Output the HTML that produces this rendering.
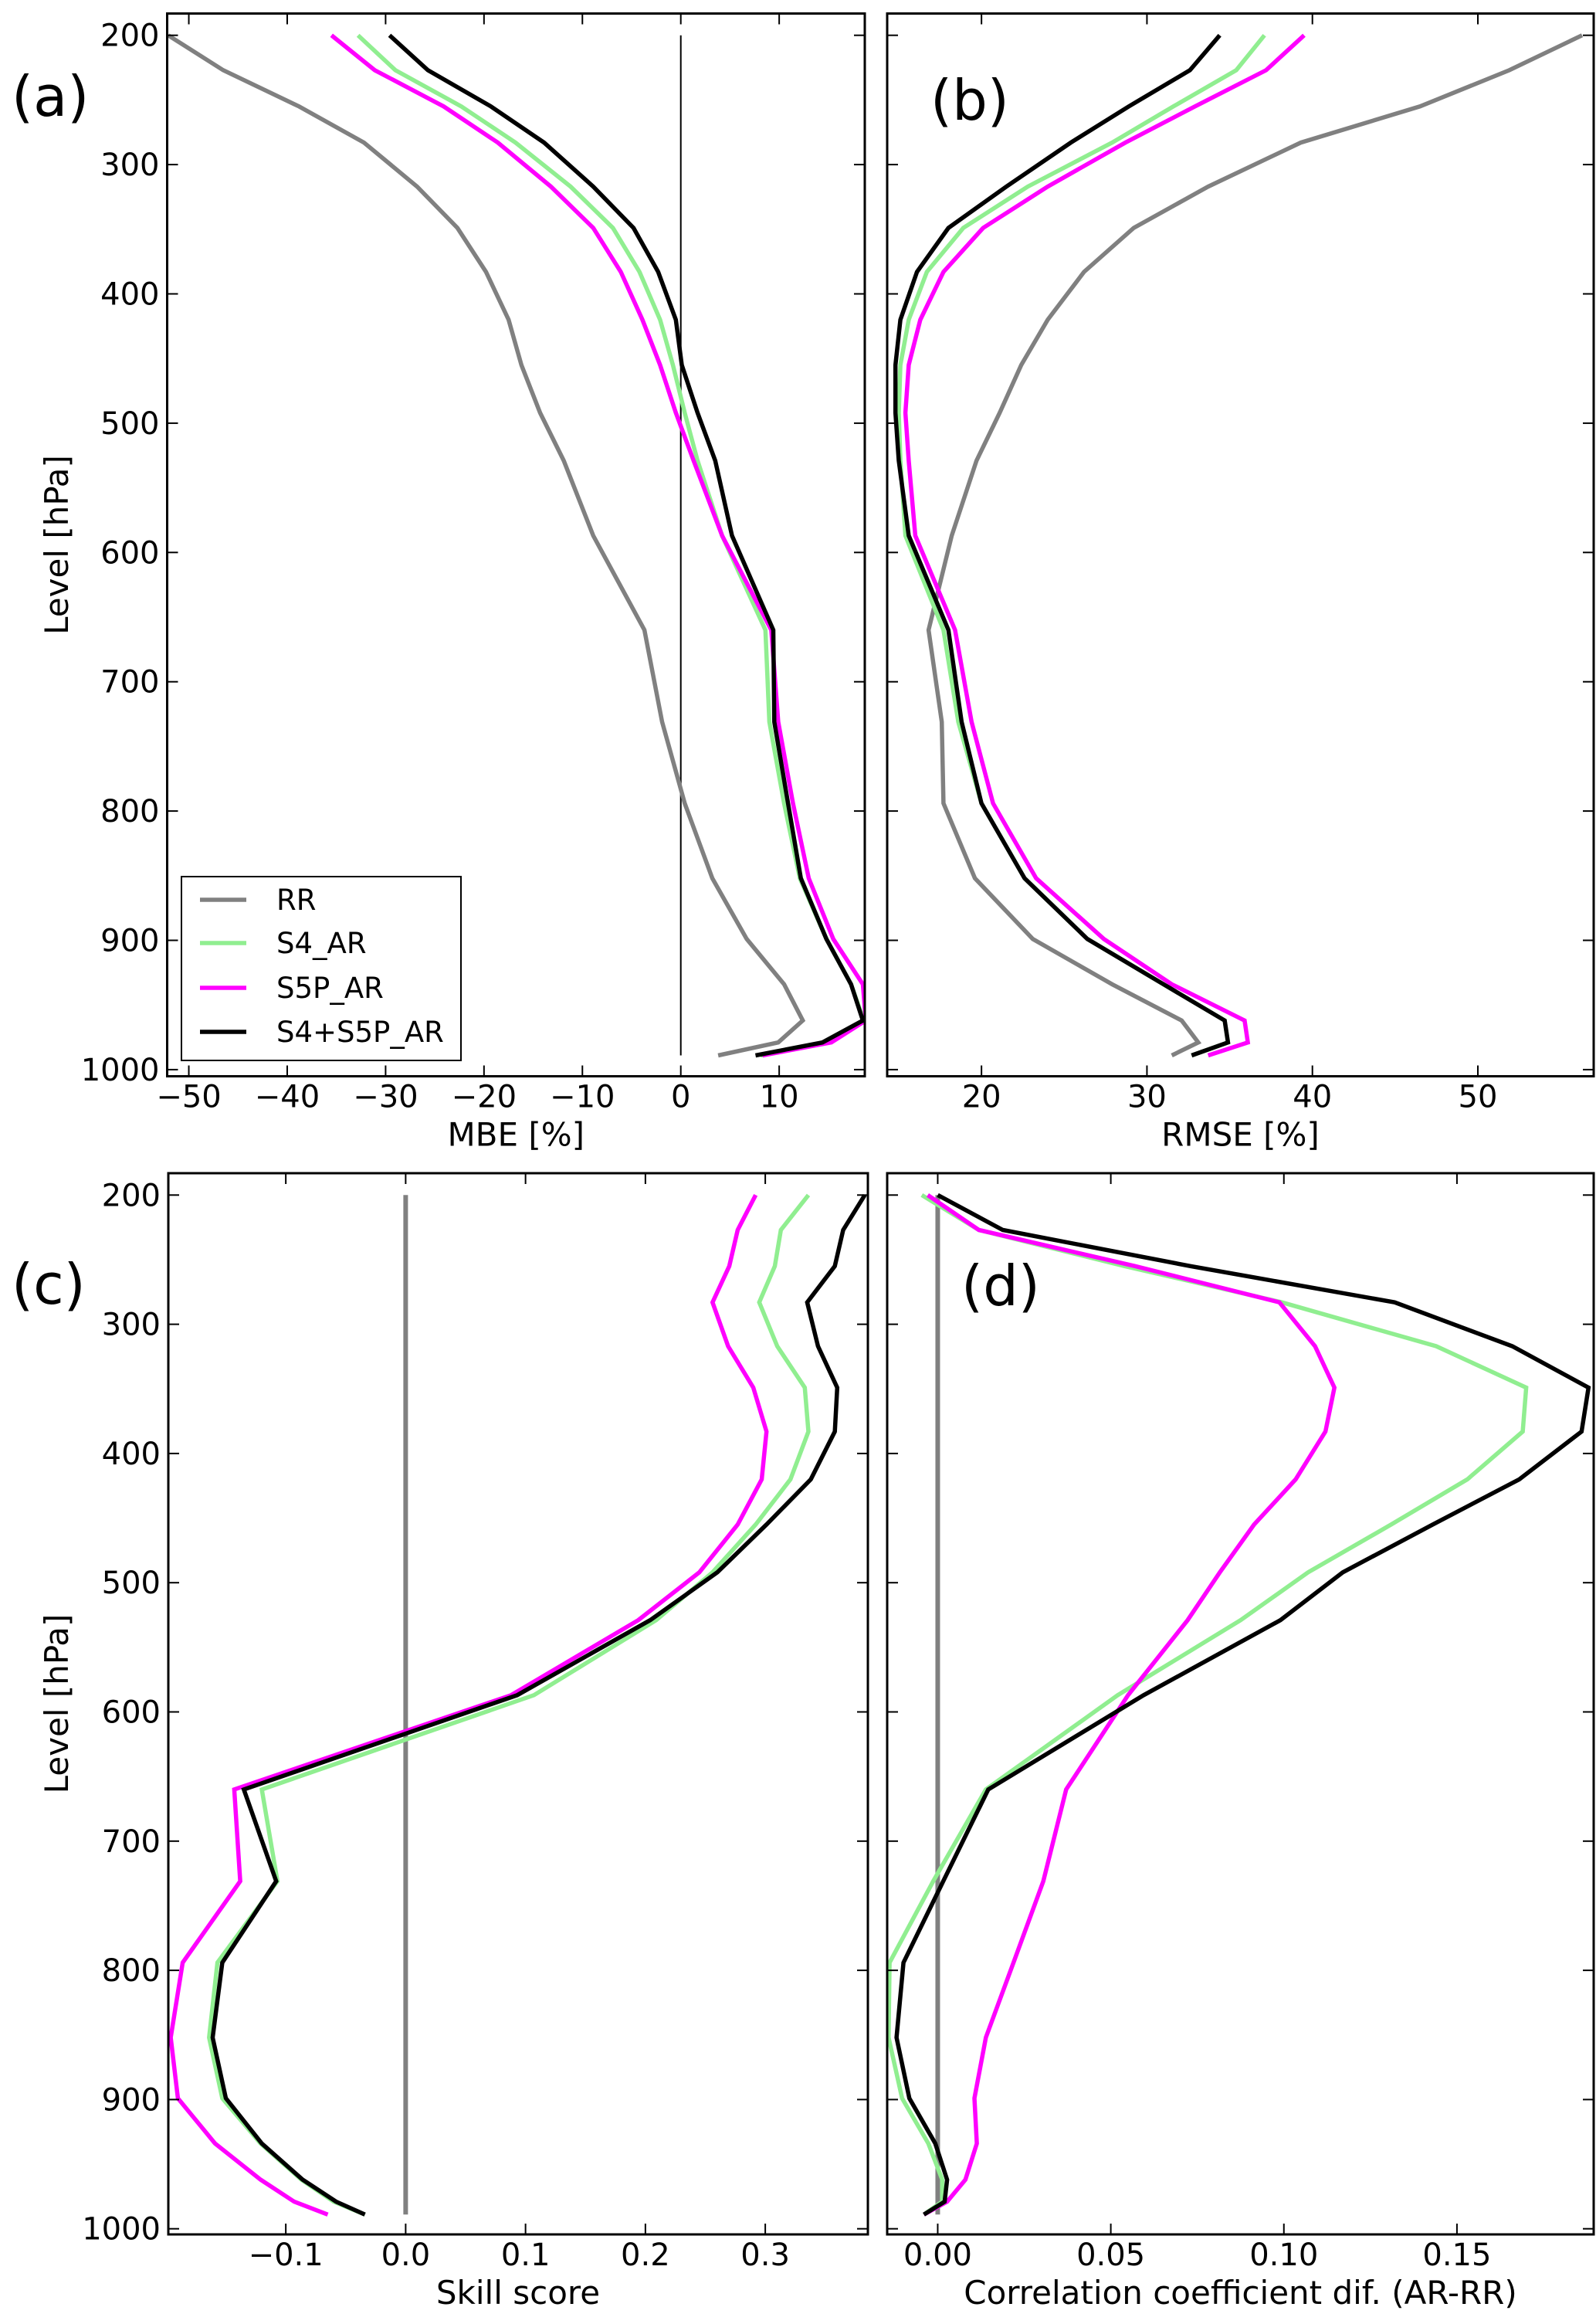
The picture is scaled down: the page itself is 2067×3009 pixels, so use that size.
<!DOCTYPE html>
<html><head><meta charset="utf-8"><style>
html,body{margin:0;padding:0;background:#fff;}
svg{display:block;font-family:"DejaVu Sans","Liberation Sans",sans-serif;}
</style></head><body>
<svg id="fig" width="2067" height="3009" viewBox="0 0 2067 3009" xmlns="http://www.w3.org/2000/svg">
<rect x="0" y="0" width="2067" height="3009" fill="#fff"/>
</svg>
<script>
const levels = [200,227,255,283,317,349,383,420,455,492,529,587,660,731,794,852,899,934,962,979,989];
const mbeRR   = [-52.1,-46.5,-38.8,-32.2,-26.8,-22.7,-19.8,-17.5,-16.2,-14.3,-11.9,-8.9,-3.7,-1.9,0.4,3.2,6.7,10.5,12.4,9.9,3.8];
const mbeS4   = [-32.8,-29.0,-22.3,-16.8,-11.2,-6.9,-4.2,-2.1,-0.8,0.4,1.7,4.2,8.6,9.0,10.5,12.1,14.8,17.3,18.6,14.9,8.1];
const mbeS5P  = [-35.5,-31.1,-24.1,-18.6,-13.2,-8.9,-6.1,-3.9,-2.1,-0.5,1.3,4.2,9.2,9.9,11.4,13.0,15.5,18.5,18.8,15.3,8.3];
const mbeBoth = [-29.6,-25.7,-19.3,-13.9,-8.9,-4.8,-2.3,-0.5,0.1,1.7,3.5,5.2,9.4,9.5,10.9,12.2,14.8,17.3,18.5,14.4,7.6];
const rmseRR   = [56.3,51.9,46.5,39.3,33.7,29.2,26.2,24.0,22.4,21.1,19.7,18.2,16.8,17.6,17.7,19.6,23.1,27.9,32.1,33.1,31.5];
const rmseS4   = [37.1,35.4,31.6,27.9,22.8,18.9,16.7,15.6,15.1,15.0,15.1,15.4,17.7,18.6,20.0,22.6,26.4,31.0,34.7,34.9,32.7];
const rmseS5P  = [39.5,37.2,32.9,28.7,24.0,20.1,17.7,16.3,15.6,15.4,15.6,16.0,18.4,19.4,20.7,23.3,27.4,31.5,35.9,36.1,33.7];
const rmseBoth = [34.4,32.6,28.9,25.4,21.5,18.0,16.1,15.1,14.8,14.8,15.0,15.6,18.0,18.8,20.0,22.6,26.4,31.0,34.7,34.9,32.7];
const ssS4   = [0.336,0.313,0.308,0.295,0.310,0.333,0.336,0.321,0.292,0.256,0.209,0.107,-0.120,-0.107,-0.157,-0.164,-0.153,-0.121,-0.087,-0.060,-0.034];
const ssS5P  = [0.292,0.277,0.270,0.256,0.269,0.290,0.301,0.297,0.277,0.245,0.194,0.088,-0.143,-0.138,-0.186,-0.196,-0.190,-0.159,-0.121,-0.093,-0.065];
const ssBoth = [0.383,0.365,0.358,0.335,0.344,0.360,0.358,0.338,0.301,0.260,0.204,0.093,-0.135,-0.108,-0.153,-0.161,-0.150,-0.120,-0.086,-0.058,-0.034];
const ccS4   = [-0.0046,0.0119,0.054,0.0994,0.144,0.170,0.169,0.153,0.131,0.107,0.0875,0.052,0.0139,-0.0013,-0.0139,-0.0142,-0.0103,-0.0027,0.0013,0.0013,-0.004];
const ccS5P  = [-0.0029,0.0119,0.057,0.0987,0.109,0.1146,0.112,0.1034,0.0914,0.0815,0.0722,0.055,0.0371,0.0305,0.0219,0.0139,0.0106,0.0113,0.008,0.0027,-0.004];
const ccBoth = [0,0.0188,0.073,0.132,0.166,0.188,0.186,0.168,0.143,0.117,0.099,0.0595,0.0146,0.0016,-0.0099,-0.0119,-0.0082,-0.0007,0.0027,0.002,-0.004];
const yTicks = [200,300,400,500,600,700,800,900,1000];
const aTicks = [-50,-40,-30,-20,-10,0,10];
const aTickLabels = ["\u221250","\u221240","\u221230","\u221220","\u221210","0","10"];
const bTicks = [20,30,40,50];
const bTickLabels = ["20","30","40","50"];
const cTicks = [-0.1,0,0.1,0.2,0.3];
const cTickLabels = ["\u22120.1","0.0","0.1","0.2","0.3"];
const dTicks = [0,0.05,0.10,0.15];
const dTickLabels = ["0.00","0.05","0.10","0.15"];
const seriesNames = ["RR","S4_AR","S5P_AR","S4+S5P_AR"];
const seriesColors = ["#808080","#90ee90","#ff00ff","#000000"];

const NS="http://www.w3.org/2000/svg";
const svg=document.getElementById('fig');
function mk(tag,attrs,parent){const e=document.createElementNS(NS,tag);for(const k in attrs)e.setAttribute(k,attrs[k]);(parent||svg).appendChild(e);return e;}

const panels=[
 {id:'a',L:216.5,R:1120,T:17.5,B:1393.5,x0:-52.2,x1:18.7,y200:45.7,yk:1.674,ticks:aTicks,labels:aTickLabels,xlabel:'MBE [%]',ylab:true,
  series:[mbeRR,mbeS4,mbeS5P,mbeBoth],zero:{v:0,color:'#000',w:2},letter:{x:15,y:150},legend:true},
 {id:'b',L:1149,R:2064,T:17.5,B:1393.5,x0:14.3,x1:57.0,y200:45.7,yk:1.674,ticks:bTicks,labels:bTickLabels,xlabel:'RMSE [%]',ylab:false,
  series:[rmseRR,rmseS4,rmseS5P,rmseBoth],zero:null,letter:{x:1205,y:155}},
 {id:'c',L:218,R:1124,T:1519,B:2893,x0:-0.198,x1:0.3856,y200:1547.3,yk:1.673,ticks:cTicks,labels:cTickLabels,xlabel:'Skill score',ylab:true,
  series:[null,ssS4,ssS5P,ssBoth],zero:{v:0,color:'#808080',w:6},letter:{x:15,y:1688}},
 {id:'d',L:1149,R:2064,T:1519,B:2893,x0:-0.0146,x1:0.1895,y200:1547.3,yk:1.673,ticks:dTicks,labels:dTickLabels,xlabel:'Correlation coefficient dif. (AR-RR)',ylab:false,
  series:[null,ccS4,ccS5P,ccBoth],zero:{v:0,color:'#808080',w:6},letter:{x:1245,y:1690}}
];

panels.forEach(p=>{
  const g=mk('g',{});
  
  
  const sx=v=>p.L+(v-p.x0)/(p.x1-p.x0)*(p.R-p.L);
  const sy=v=>p.y200+(v-200)*p.yk;
  const clipId='clip-'+p.id;
  const cp=mk('clipPath',{id:clipId},g);
  mk('rect',{x:p.L,y:p.T,width:p.R-p.L,height:p.B-p.T},cp);
  const plot=mk('g',{'clip-path':'url(#'+clipId+')'},g);
  if(p.zero){
    const z=mk('line',{x1:sx(p.zero.v),x2:sx(p.zero.v),y1:sy(levels[0]),y2:sy(levels[levels.length-1]),stroke:p.zero.color,'stroke-width':p.zero.w},plot);
    
    
  }
  p.series.forEach((arr,i)=>{
    if(!arr)return;
    const pts=arr.map((v,j)=>sx(v).toFixed(1)+','+sy(levels[j]).toFixed(1)).join(' ');
    const pl=mk('polyline',{points:pts,fill:'none',stroke:seriesColors[i],'stroke-width':5.5,'stroke-linejoin':'miter','stroke-miterlimit':3},plot);
    
    
  });
  yTicks.forEach(t=>{
    const y=sy(t);
    mk('line',{x1:p.L,x2:p.L+14,y1:y,y2:y,stroke:'#000','stroke-width':2},g);
    mk('line',{x1:p.R-14,x2:p.R,y1:y,y2:y,stroke:'#000','stroke-width':2},g);
    if(p.ylab){
      const tx=mk('text',{x:p.L-10,y:y+14,'text-anchor':'end','font-size':40},g);
      tx.textContent=t;
      
      
    }
  });
  p.ticks.forEach((t,i)=>{
    const x=sx(t);
    mk('line',{x1:x,x2:x,y1:p.B-14,y2:p.B,stroke:'#000','stroke-width':2},g);
    mk('line',{x1:x,x2:x,y1:p.T,y2:p.T+14,stroke:'#000','stroke-width':2},g);
    const tx=mk('text',{x:x,y:p.B+40,'text-anchor':'middle','font-size':40},g);
    tx.textContent=p.labels[i];
    
    
  });
  mk('rect',{x:p.L,y:p.T,width:p.R-p.L,height:p.B-p.T,fill:'none',stroke:'#000','stroke-width':3},g);
  const xl=mk('text',{x:(p.L+p.R)/2,y:p.B+90,'text-anchor':'middle','font-size':42},g);
  xl.textContent=p.xlabel;
  
  
  if(p.ylab){
    const cy=(p.T+p.B)/2;
    const yl=mk('text',{x:88,y:cy,'text-anchor':'middle','font-size':42,transform:'rotate(-90 88 '+cy+')'},g);
    yl.textContent='Level [hPa]';
    
    
  }
  const lt=mk('text',{x:p.letter.x,y:p.letter.y,'font-size':72},g);
  lt.textContent='('+p.id+')';
  
  
  if(p.legend){
    const lg=mk('g',{},g);
    
    
    mk('rect',{x:235,y:1135,width:362,height:238,fill:'#fff',stroke:'#000','stroke-width':2},lg);
    const ys=[1165,1221,1279,1336];
    seriesNames.forEach((n,i)=>{
      const e=mk('g',{},lg);
      
      
      mk('line',{x1:259,x2:319,y1:ys[i],y2:ys[i],stroke:seriesColors[i],'stroke-width':5.5},e);
      const t=mk('text',{x:358,y:ys[i]+13,'font-size':37},e);
      t.textContent=n;
    });
  }
});
</script>
</body></html>
